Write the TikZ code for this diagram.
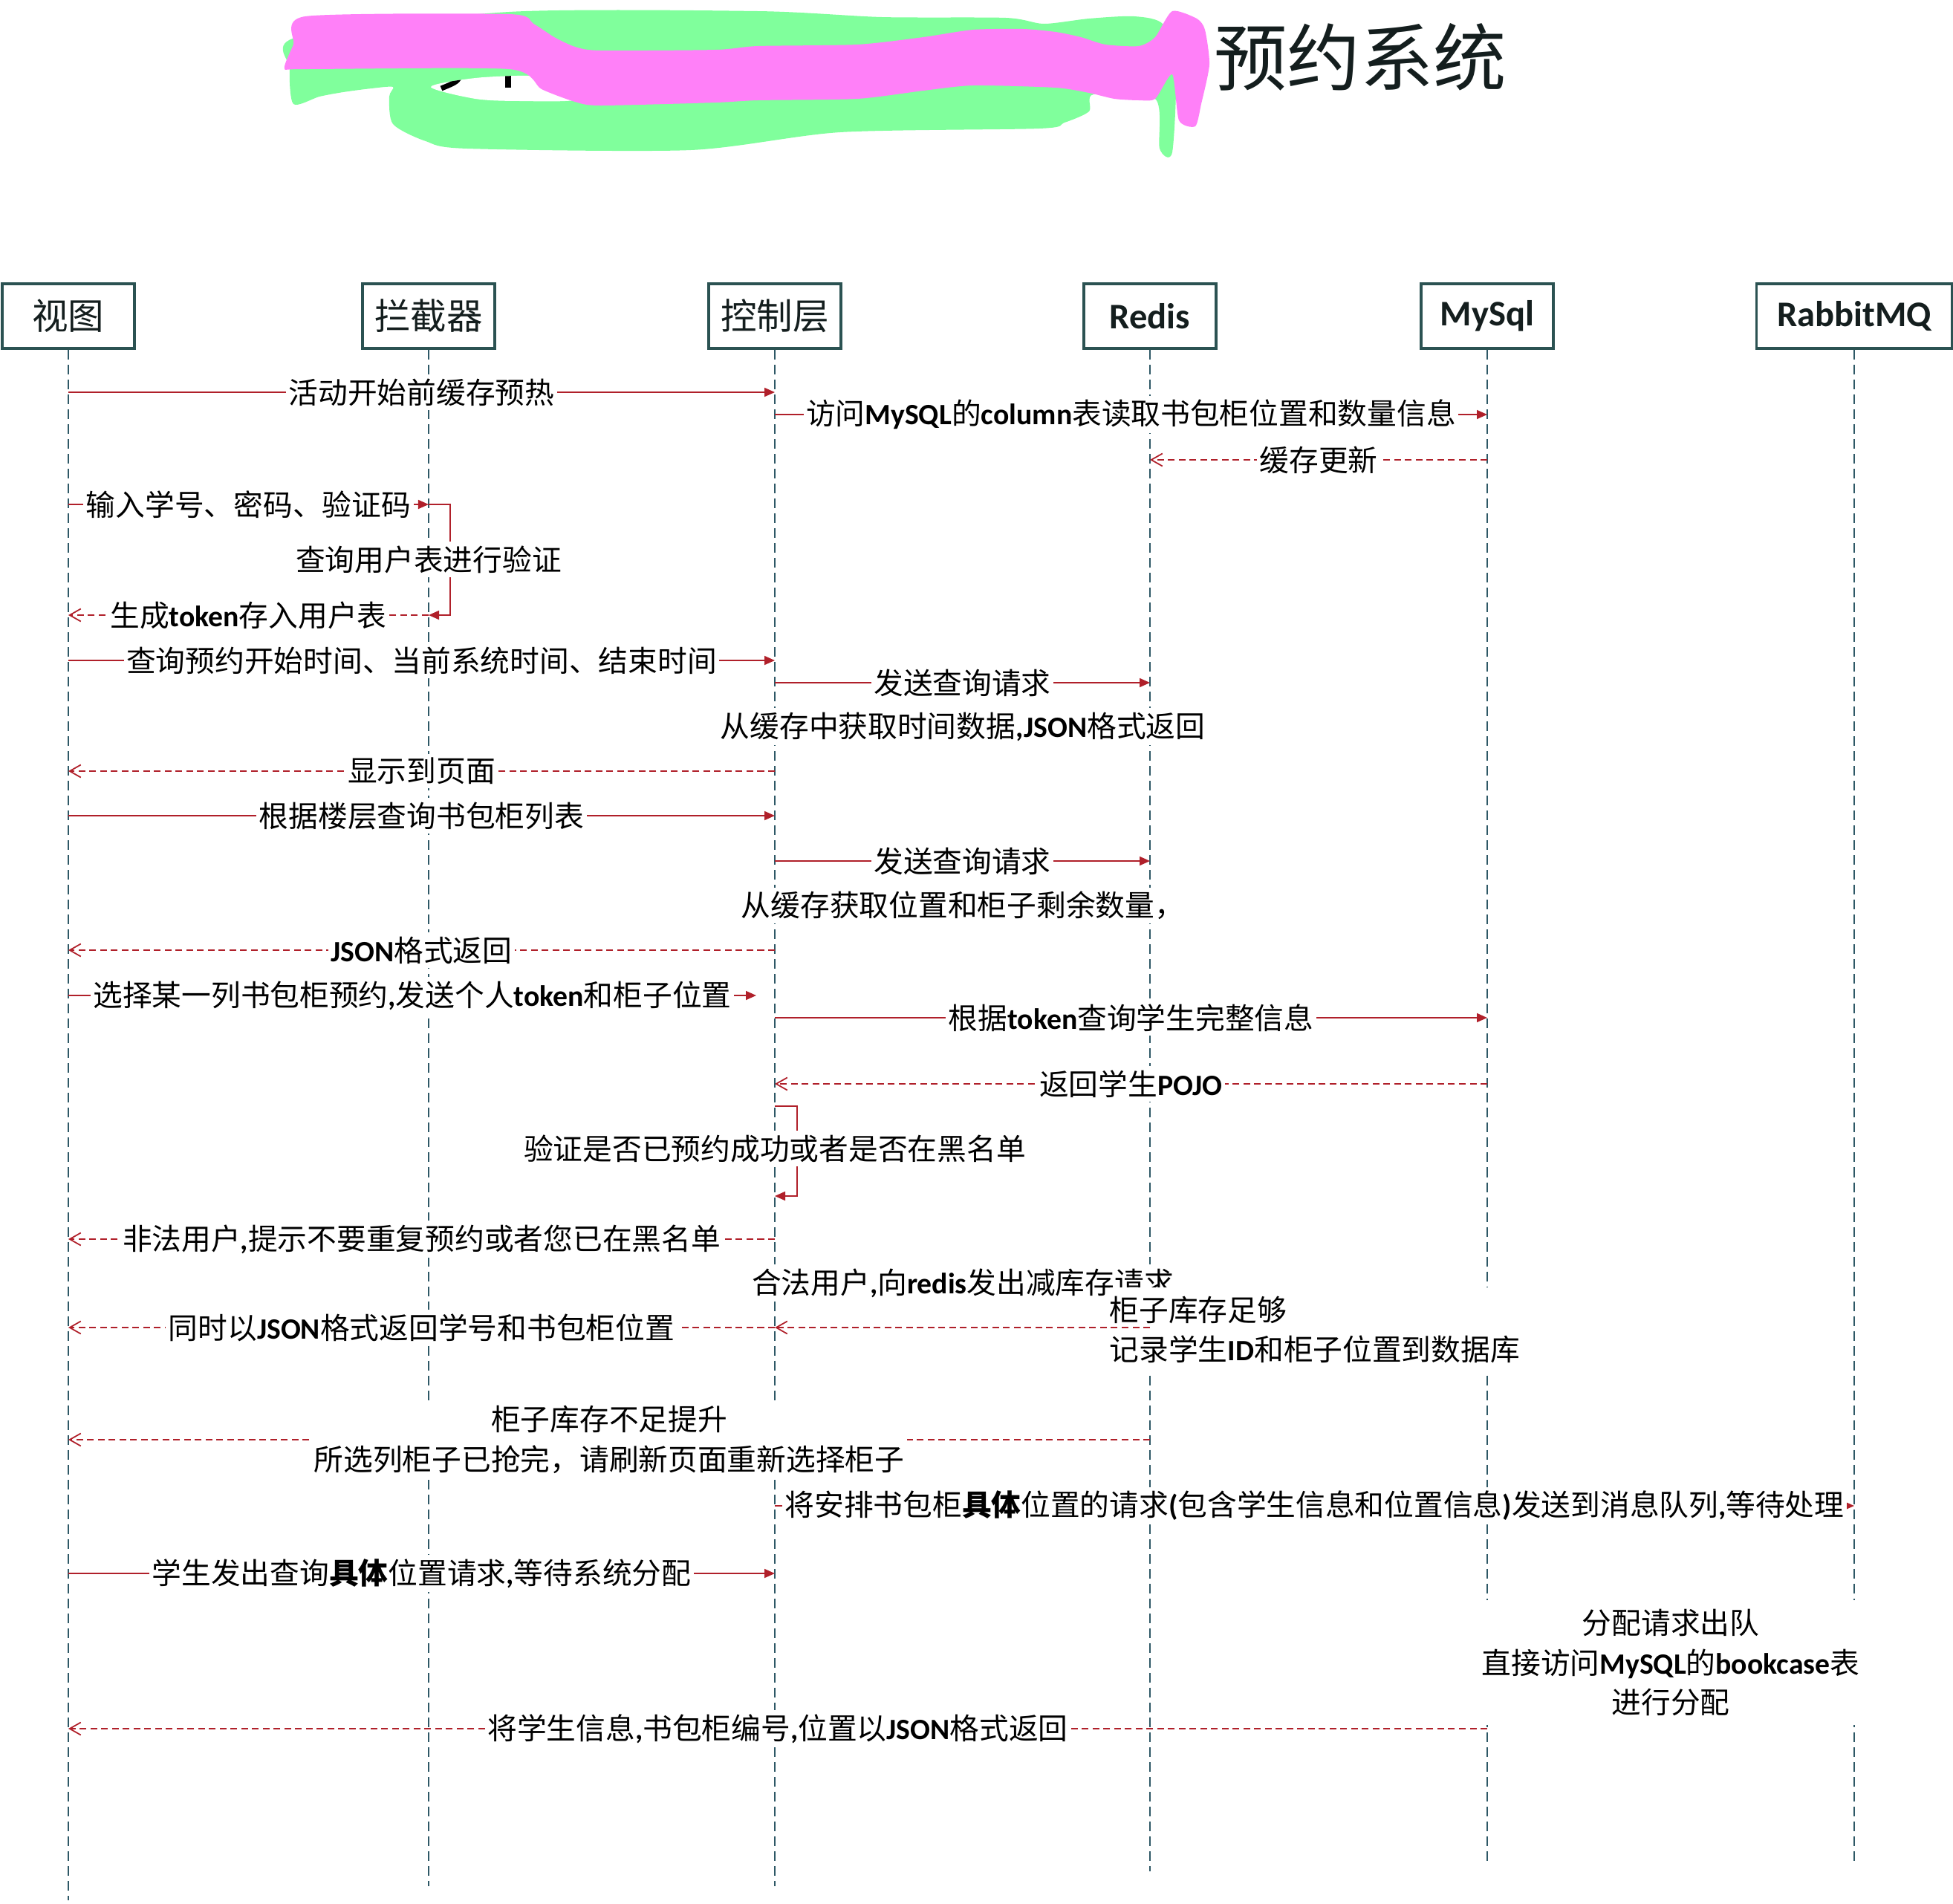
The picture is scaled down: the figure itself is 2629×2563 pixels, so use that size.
\documentclass[tikz,border=0pt]{standalone}
\usepackage{fontspec}
\setmainfont{Noto Sans CJK SC}
\newfontfamily\latf{Carlito}
\usetikzlibrary{arrows.meta}
\definecolor{arr}{HTML}{B0202A}
\definecolor{boxc}{HTML}{2B5252}
\definecolor{lifec}{HTML}{2E5866}
\definecolor{txt}{HTML}{141E1E}
\definecolor{spink}{HTML}{FF80F8}
\definecolor{sgreen}{HTML}{80FF9C}
\newcommand\en[1]{{\latf\bfseries #1}}
\begin{document}
\begin{tikzpicture}[x=0.01cm,y=-0.01cm,
  actor/.style={draw=boxc, line width=1pt, fill=white, minimum width=1.78cm, minimum height=0.87cm,
    inner sep=0pt, text=txt, font=\fontsize{13.8}{16}\selectfont},
  life/.style={draw=lifec, line width=0.4pt, dash pattern=on 0.13cm off 0.07cm},
  sol/.style={draw=arr, line width=0.5pt, -{Triangle[length=0.14cm,width=0.12cm]}},
  ret/.style={draw=arr, line width=0.5pt, dash pattern=on 0.09cm off 0.055cm,
    -{Straight Barb[length=0.15cm,width=0.17cm]}},
  lbl/.style={fill=white, inner xsep=1pt, inner ysep=1.5pt, text=black,
    font=\fontsize{11.3}{15.3}\selectfont}]
\useasboundingbox (0,0) rectangle (2629,2563);

% actors
\node[actor] (v) at (92,425.5) {视图};
\node[actor] (i) at (577,425.5) {拦截器};
\node[actor] (c) at (1043,425.5) {控制层};
\node[actor] (r) at (1548,425.5) {\en{Redis}};
\node[actor] (m) at (2002,425.5) {\en{MySql}};
\node[actor, minimum width=2.63cm] (q) at (2496,425.5) {\en{RabbitMQ}};

% lifelines
\draw[life] (v.south) -- (v |- 0,2558);
\draw[life] (i.south) -- (i |- 0,2539);
\draw[life] (c.south) -- (c |- 0,2539);
\draw[life] (r.south) -- (r |- 0,2519);
\draw[life] (m.south) -- (m |- 0,2509);
\draw[life] (q.south) -- (q |- 0,2509);

% messages
\draw[sol] (v |- 0,528) -- node[lbl] (l1) {活动开始前缓存预热} (c |- 0,528);
\draw[sol] (c |- 0,558) -- node[lbl] (l2) {访问\en{MySQL}的\en{column}表读取书包柜位置和数量信息} (m |- 0,558);
\draw[ret] (m |- 0,619) -- node[lbl] (l3) {缓存更新} (r |- 0,619);
\draw[sol] (v |- 0,679) -- node[lbl] (l4) {输入学号、密码、验证码} (i |- 0,679);
\draw[sol] (i |- 0,679) -- ++(29,0) |- (i |- 0,828);
\node[lbl] (l4b) at (i |- 0,753) {查询用户表进行验证};
\draw[ret] (i |- 0,828) -- node[lbl] (l5) {生成\en{token}存入用户表} (v |- 0,828);
\draw[sol] (v |- 0,889) -- node[lbl] (l6) {查询预约开始时间、当前系统时间、结束时间} (c |- 0,889);
\draw[sol] (c |- 0,919) -- node[lbl] (l7) {发送查询请求} (r |- 0,919);
\node[lbl] (l8) at (1296,978) {从缓存中获取时间数据\en{,JSON}格式返回};
\draw[ret] (c |- 0,1038) -- node[lbl] (l9) {显示到页面} (v |- 0,1038);
\draw[sol] (v |- 0,1098) -- node[lbl] (l10) {根据楼层查询书包柜列表} (c |- 0,1098);
\draw[sol] (c |- 0,1159) -- node[lbl] (l11) {发送查询请求} (r |- 0,1159);
\node[lbl] (l12) at (1296,1219) {从缓存获取位置和柜子剩余数量，};
\draw[ret] (c |- 0,1279) -- node[lbl] (l13) {\en{JSON}格式返回} (v |- 0,1279);
\coordinate (e14) at (1018,1340);
\draw[sol] (v |- 0,1340) -- node[lbl] (l14) {选择某一列书包柜预约\en{,}发送个人\en{token}和柜子位置} (e14);
\draw[sol] (c |- 0,1370) -- node[lbl] (l15) {根据\en{token}查询学生完整信息} (m |- 0,1370);
\draw[ret] (m |- 0,1459) -- node[lbl] (l16) {返回学生\en{POJO}} (c |- 0,1459);
\draw[sol] (c |- 0,1489) -- ++(30,0) |- (c |- 0,1610);
\node[lbl] (l17) at (c |- 0,1546) {验证是否已预约成功或者是否在黑名单};
\draw[ret] (c |- 0,1668) -- node[lbl] (l18) {非法用户\en{,}提示不要重复预约或者您已在黑名单} (v |- 0,1668);
\node[lbl] (l19) at (1296,1727) {合法用户\en{,}向\en{redis}发出减库存请求};
\draw[ret] (c |- 0,1787) -- node[lbl] (l20) {同时以\en{JSON}格式返回学号和书包柜位置} (v |- 0,1787);
\node[lbl, anchor=west, align=left, minimum height=1.14cm, inner xsep=0pt] (l20b) at (1493,1790)
  {柜子库存足够\\记录学生\en{ID}和柜子位置到数据库};
\draw[ret] (r |- 0,1787) -- (c |- 0,1787);
\draw[ret] (r |- 0,1938) -- node[lbl, align=center] (l21)
  {柜子库存不足提升\\所选列柜子已抢完，请刷新页面重新选择柜子} (v |- 0,1938);
\draw[sol] (c |- 0,2027) -- node[lbl] (l22)
  {将安排书包柜\textbf{具体}位置的请求\en{(}包含学生信息和位置信息\en{)}发送到消息队列\en{,}等待处理} (q |- 0,2027);
\draw[sol] (v |- 0,2118) -- node[lbl] (l23) {学生发出查询\textbf{具体}位置请求\en{,}等待系统分配} (c |- 0,2118);
\node[lbl, align=center, minimum height=1.67cm] (l24) at (2249,2238)
  {分配请求出队\\直接访问\en{MySQL}的\en{bookcase}表\\进行分配};
\draw[ret] (m |- 0,2327) -- node[lbl] (l25) {将学生信息\en{,}书包柜编号\en{,}位置以\en{JSON}格式返回} (v |- 0,2327);

% title
\node[text=txt, font=\fontsize{28}{30}\selectfont, inner sep=0pt] (title) at (1831,77) {预约系统};

% scribble
\fill[sgreen] plot[smooth cycle, tension=0.45] coordinates {(395,140) (390,92) (400,50) (685,16) (1020,15)
  (1187,23) (1354,24) (1405,32) (1466,25) (1527,22) (1566,33) (1583,90) (1578,205) (1561,200)
  (1555,133) (1472,127) (1466,150) (1433,165) (1399,173) (1131,178) (930,202) (629,200) (573,190)
  (529,167) (524,130) (529,117) (500,119) (462,124) (430,130)};
\fill[white] plot[smooth cycle, tension=0.5] coordinates {(580,117) (640,105) (720,102) (778,110) (778,134) (700,136) (640,133)};
\begin{scope}
  \clip plot[smooth cycle, tension=0.5] coordinates {(580,117) (640,105) (720,102) (778,110) (778,134) (700,136) (640,133)};
  \draw[black, line width=2pt] (621,98) .. controls (616,110) .. (594,119);
  \draw[black, line width=2pt] (684,98) -- (684,118);
\end{scope}
\fill[spink] plot[smooth cycle, tension=0.4] coordinates {(411,22) (685,19) (718,32) (746,50) (774,63)
  (808,68) (964,67) (1020,62) (1154,60) (1243,50) (1310,40) (1377,39) (1421,43) (1455,50) (1488,60)
  (1533,62) (1555,50) (1578,15) (1611,25) (1622,40) (1628,87) (1617,140) (1609,170) (1587,162)
  (1578,100) (1555,133) (1533,135) (1500,133) (1466,125) (1421,118) (1310,115) (1243,122) (1154,133)
  (1020,135) (964,138) (808,142) (774,137) (729,120) (685,93) (411,93) (383,92) (395,60)};
\end{tikzpicture}
\end{document}
